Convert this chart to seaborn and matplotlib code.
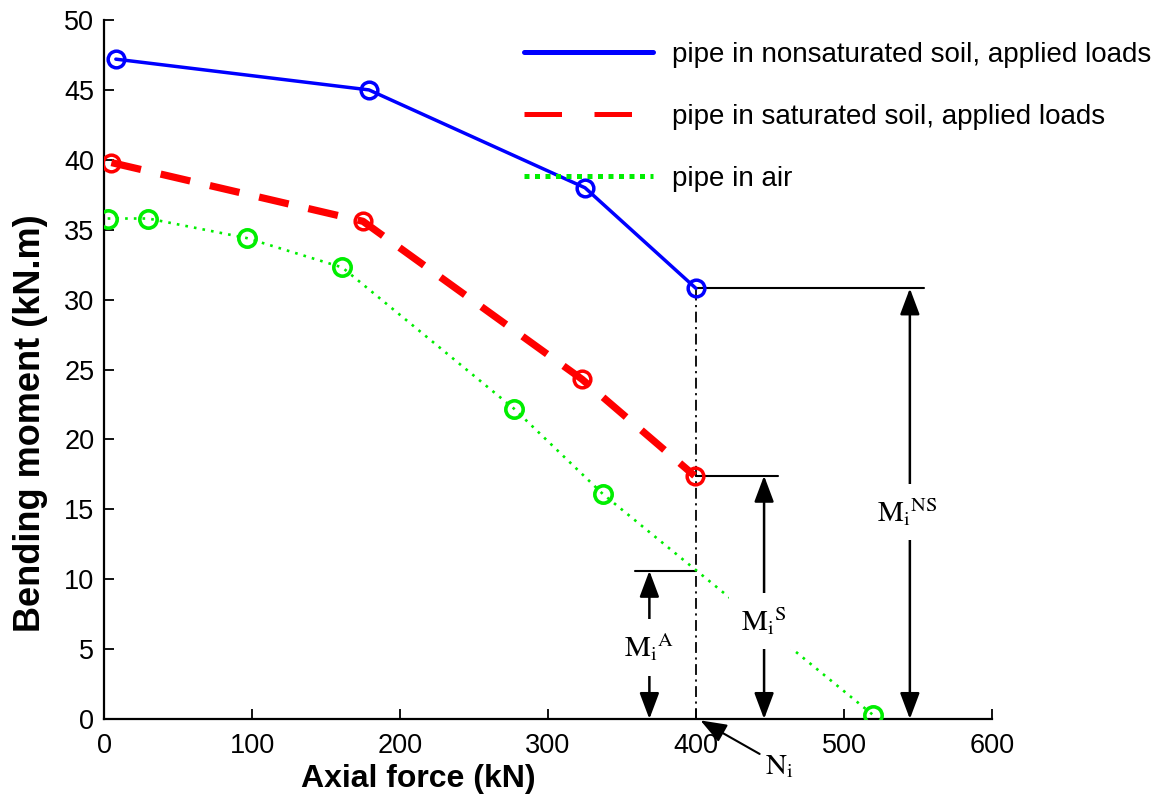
import matplotlib
matplotlib.use("Agg")
import matplotlib.pyplot as plt
from matplotlib.lines import Line2D
import seaborn as sns
import pandas as pd

# ---- data ----
nonsat_force = [8, 179, 325, 400]
nonsat_moment = [47.2, 45.0, 38.0, 30.8]
sat_force = [5, 175, 323, 399]
sat_moment = [39.8, 35.6, 24.3, 17.4]
air_force = [2.5, 30, 96.5, 161, 277, 337, 519.5]
air_moment = [35.8, 35.8, 34.4, 32.3, 22.2, 16.1, 0.3]

series_labels = ["pipe in nonsaturated soil, applied loads",
                 "pipe in saturated soil, applied loads",
                 "pipe in air"]
x_ticks = [0, 100, 200, 300, 400, 500, 600]
y_ticks = [0, 5, 10, 15, 20, 25, 30, 35, 40, 45, 50]

N_i = 400
M_A = 10.6
M_S = 17.4
M_NS = 30.8

sns.set_style("ticks")
plt.rcParams["font.family"] = ["Liberation Sans", "DejaVu Sans"]
plt.rcParams["mathtext.fontset"] = "stix"
for k in ["text.color", "axes.labelcolor", "xtick.color", "ytick.color",
          "axes.edgecolor"]:
    plt.rcParams[k] = "black"

fig = plt.figure(figsize=(11.6, 8.02), dpi=100)
ax = fig.add_axes([104/1160, 83/802, 888/1160, 699/802])

df_ns = pd.DataFrame({"force": nonsat_force, "moment": nonsat_moment})
df_s = pd.DataFrame({"force": sat_force, "moment": sat_moment})
df_a = pd.DataFrame({"force": air_force, "moment": air_moment})

sns.lineplot(data=df_a, x="force", y="moment", ax=ax, color="#00ee00",
             linewidth=1.9, linestyle=(0, (1, 2.3)), marker="o",
             markersize=12.5, markerfacecolor="none", markeredgecolor="#00ee00",
             markeredgewidth=2.6, zorder=3)
sns.lineplot(data=df_s, x="force", y="moment", ax=ax, color="#ff0000",
             linewidth=5.2, linestyle=(0, (4.2, 2.8)), marker="o",
             markersize=12, markerfacecolor="none", markeredgecolor="#ff0000",
             markeredgewidth=2.5, zorder=4)
sns.lineplot(data=df_ns, x="force", y="moment", ax=ax, color="#0000ff",
             linewidth=2.5, marker="o",
             markersize=12, markerfacecolor="none", markeredgecolor="#0000ff",
             markeredgewidth=2.5, zorder=5)

ax.set_xlim(0, 600)
ax.set_ylim(0, 50)
ax.set_xticks(x_ticks)
ax.set_yticks(y_ticks)
ax.tick_params(direction="in", length=7, width=1.3, labelsize=19.5, pad=7)
ax.tick_params(axis="x", pad=10)
for s in ["top", "right"]:
    ax.spines[s].set_visible(False)
for s in ["left", "bottom"]:
    ax.spines[s].set_linewidth(1.6)

ax.set_xlabel("Axial force (kN)", fontsize=23, fontweight="bold")
ax.set_ylabel("Bending moment (kN.m)", fontsize=26, fontweight="bold")
ax.xaxis.set_label_coords((418-104)/888, -(764-719)/699)
ax.yaxis.set_label_coords(-(104-48)/888, (719-423)/699)

# ---- legend ----
handles = [
    Line2D([], [], color="#0000ff", lw=3.6),
    Line2D([], [], color="#ff0000", lw=3.6, linestyle=(0, (7.5, 6.5))),
    Line2D([], [], color="#00ee00", lw=3.6, linestyle=(0, (1, 1.1))),
]
fig.legend(handles, series_labels, loc="upper left",
           bbox_to_anchor=(524/1160, 1-42/802), frameon=False,
           fontsize=20, handlelength=4.64, handletextpad=0.68,
           labelspacing=1.3, borderpad=0, borderaxespad=0)

# ---- annotations ----
ax.plot([N_i, N_i], [0, M_NS], color="black", lw=1.3,
        linestyle=(0, (6, 2.5, 1.2, 2.5)), zorder=2)
ax.plot([N_i, 554], [M_NS, M_NS], color="black", lw=1.5, zorder=2)
ax.plot([N_i, 455.5], [M_S, M_S], color="black", lw=1.5, zorder=2)
ax.plot([359, N_i], [M_A, M_A], color="black", lw=1.5, zorder=2)

arrow_kw = dict(arrowstyle="<|-|>,head_length=0.8,head_width=0.3",
                color="black", lw=1.8, shrinkA=0, shrinkB=0,
                mutation_scale=20)
for xa, ytop in [(368.5, M_A), (446, M_S), (544.5, M_NS)]:
    ax.annotate("", xy=(xa, 0), xytext=(xa, ytop), arrowprops=arrow_kw,
                annotation_clip=False, zorder=2)

lab_kw = dict(fontsize=21, ha="center", va="center", zorder=6,
              bbox=dict(facecolor="white", edgecolor="none", pad=9))
ax.text(368.5, 5.1, r"$\mathrm{M_i}^{\mathrm{A}}$", **lab_kw)
ax.text(446, 7.0, r"$\mathrm{M_i}^{\mathrm{S}}$", **lab_kw)
ax.text(543, 14.8, r"$\mathrm{M_i}^{\mathrm{NS}}$", **lab_kw)

ax.annotate("", xy=(403, -0.1), xytext=(443, -2.5),
            arrowprops=dict(arrowstyle="-|>,head_length=0.8,head_width=0.3",
                            color="black", lw=1.5, shrinkA=0, shrinkB=0,
                            mutation_scale=20),
            annotation_clip=False)
ax.text(456, -3.4, r"$\mathrm{N_i}$", fontsize=21, ha="center", va="center",
        clip_on=False)

fig.savefig("out.png", dpi=100)
